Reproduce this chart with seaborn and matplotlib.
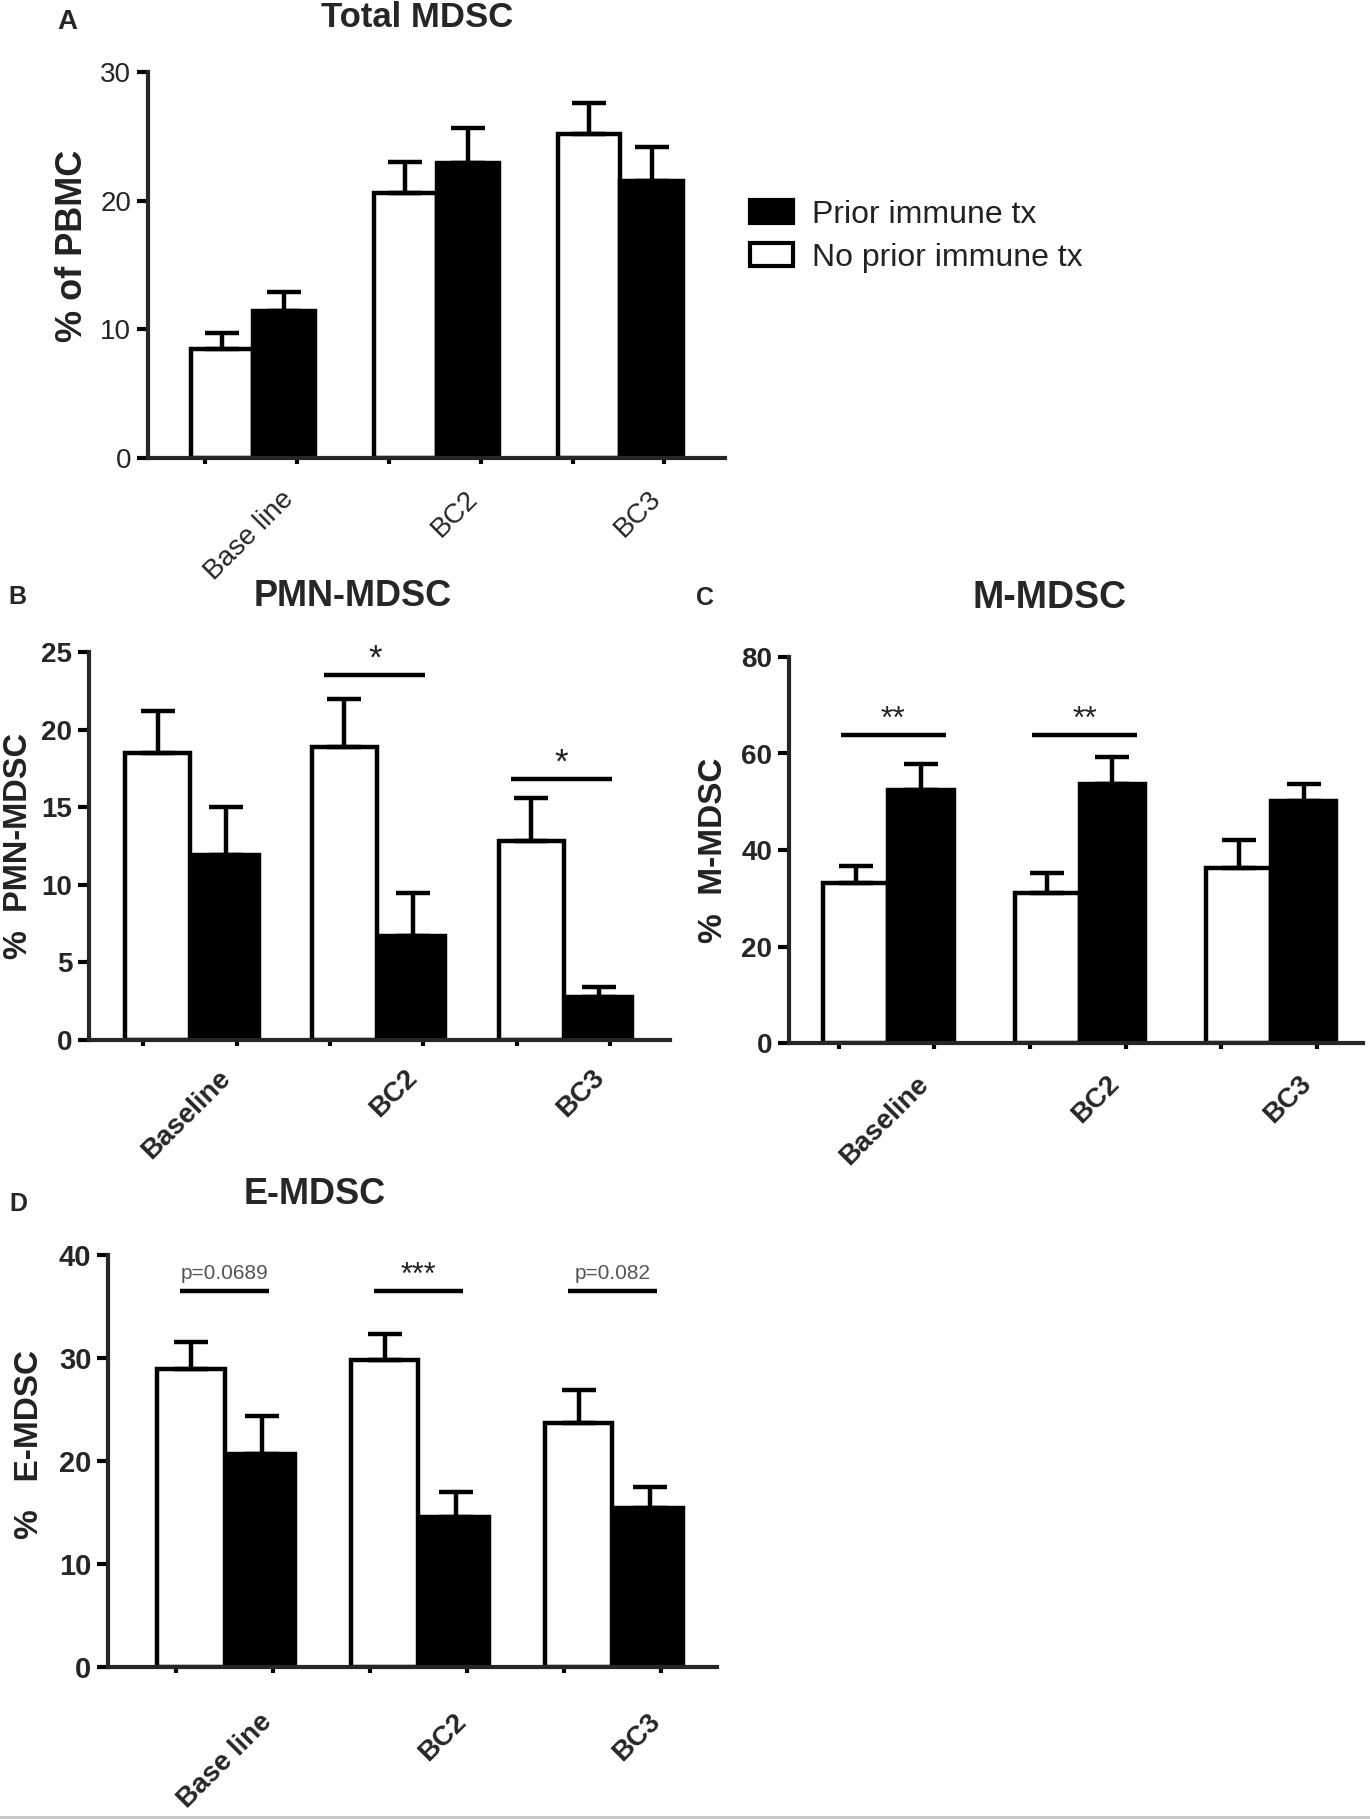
import numpy as np
import pandas as pd
import matplotlib
matplotlib.use('Agg')
import matplotlib.pyplot as plt
import seaborn as sns
from matplotlib.patches import Patch, Rectangle

# groups and treatment levels
groups = ['Baseline', 'BC2', 'BC3']
treatments = ['No prior immune tx', 'Prior immune tx']

# A - Total MDSC (% of PBMC), mean and SEM (upper bar only)
total_no = [8.5, 20.6, 25.2]
total_no_err = [1.2, 2.4, 2.4]
total_prior = [11.4, 22.9, 21.5]
total_prior_err = [1.5, 2.75, 2.7]

# B - PMN-MDSC
pmn_no = [18.5, 18.9, 12.8]
pmn_no_err = [2.7, 3.1, 2.8]
pmn_prior = [11.9, 6.7, 2.8]
pmn_prior_err = [3.1, 2.8, 0.6]

# C - M-MDSC
m_no = [33.2, 31.0, 36.3]
m_no_err = [3.5, 4.3, 5.7]
m_prior = [52.5, 53.7, 50.2]
m_prior_err = [5.3, 5.5, 3.5]

# D - E-MDSC
e_no = [28.9, 29.8, 23.7]
e_no_err = [2.7, 2.5, 3.2]
e_prior = [20.7, 14.6, 15.4]
e_prior_err = [3.7, 2.4, 2.1]

labels_a = ['Base line', 'BC2', 'BC3']
labels_b = ['Baseline', 'BC2', 'BC3']
labels_c = ['Baseline', 'BC2', 'BC3']
labels_d = ['Base line', 'BC2', 'BC3']

# significance annotations: (group index, y, text)
sig_b = [(1, 23.5, '*'), (2, 16.8, '*')]
sig_c = [(0, 63.8, '**'), (1, 63.8, '**')]
sig_d = [(0, 36.5, 'p=0.0689'), (1, 36.5, '***'), (2, 36.5, 'p=0.082')]

sns.set_style('ticks')
plt.rcParams['font.family'] = ['Liberation Sans', 'DejaVu Sans']

W, H = 1370, 1819
fig = plt.figure(figsize=(W / 100, H / 100), dpi=100)


def rect(left, top, right, bottom):
    return [left / W, 1 - bottom / H, (right - left) / W, (bottom - top) / H]


def ftext(x, y, s, **kw):
    fig.text(x / W, 1 - y / H, s, **kw)


def panel(ax, no, no_err, prior, prior_err, ymax, step, width, gap, xlim,
          ticklabels, tickweight, ticksize, xsize, xpad, xshift):
    df = pd.DataFrame({
        'group': groups * 2,
        'treatment': [treatments[0]] * 3 + [treatments[1]] * 3,
        'value': list(no) + list(prior),
    })
    sns.barplot(data=df, x='group', y='value', hue='treatment',
                hue_order=treatments, order=groups,
                palette={treatments[0]: 'white', treatments[1]: 'black'},
                edgecolor='black', linewidth=3.2, width=width, gap=gap,
                errorbar=None, legend=False, ax=ax)
    bars = sorted(ax.patches, key=lambda p: p.get_x())
    xs = [p.get_x() + p.get_width() / 2 for p in bars]
    means, errs = [], []
    for i in range(3):
        means += [no[i], prior[i]]
        errs += [no_err[i], prior_err[i]]
    ax.errorbar(xs, means, yerr=[np.zeros(6), errs], fmt='none',
                ecolor='black', elinewidth=3.2, capsize=12, capthick=3.2,
                zorder=3)
    ax.set_xlim(*xlim)
    ax.set_ylim(0, ymax)
    ax.set_xlabel('')
    ax.set_ylabel('')
    sns.despine(ax=ax)
    for s in ['left', 'bottom']:
        ax.spines[s].set_linewidth(3)
    ax.spines['left'].set_bounds(0, ymax)
    ax.set_yticks(np.arange(0, ymax + 0.1, step))
    ax.set_yticklabels([f'{int(v)}' for v in np.arange(0, ymax + 0.1, step)],
                       fontsize=ticksize, fontweight=tickweight)
    ax.tick_params(axis='y', length=8, width=3, pad=4, color='black')
    ax.set_xticks([i + xshift for i in range(3)])
    ax.set_xticklabels(ticklabels, fontsize=xsize, fontweight=tickweight)
    ax.set_xticks([i + d for i in range(3) for d in (-0.26, 0.24)], minor=True)
    ax.tick_params(axis='x', which='major', length=0, pad=xpad)
    ax.tick_params(axis='x', which='minor', length=4, width=3, color='black')
    for lab in ax.get_xticklabels():
        lab.set_rotation(45)
        lab.set_ha('right')
        lab.set_rotation_mode('anchor')
    ax.set_facecolor('none')


def sig(ax, items, x0, x1, size):
    for g, y, s in items:
        ax.plot([g + x0, g + x1], [y, y], color='black', lw=3.2,
                solid_capstyle='butt', clip_on=False)
        if s.startswith('p='):
            ax.annotate(s, ((2 * g + x0 + x1) / 2, y), xytext=(0, 6),
                        textcoords='offset points', ha='center', va='bottom',
                        fontsize=15, color='#555555')
        else:
            ax.annotate(s, ((2 * g + x0 + x1) / 2, y), xytext=(0, 0),
                        textcoords='offset points', ha='center', va='bottom',
                        fontsize=size, color='#222222')


# Panel A
ax_a = fig.add_axes(rect(148, 72, 725, 458))
panel(ax_a, total_no, total_no_err, total_prior, total_prior_err,
      30, 10, 0.68, 0, (-0.572, 2.57), labels_a, 'normal', 20, 20, 20, 0.15)
ftext(417, 27, 'Total MDSC', ha='center', va='baseline', fontsize=25, fontweight='bold')
ftext(67, 22, 'A', ha='center', va='center', fontsize=20, fontweight='bold')
ftext(72, 246, '% of PBMC', ha='center', va='center', rotation=90,
      fontsize=26, fontweight='bold', color='#222222')
handles = [Patch(facecolor='black', edgecolor='black', linewidth=3),
           Patch(facecolor='white', edgecolor='black', linewidth=3)]
fig.legend(handles, ['Prior immune tx', 'No prior immune tx'],
           loc='upper left', bbox_to_anchor=(750 / W, 1 - 200 / H),
           frameon=False, fontsize=23, handlelength=1.35, handleheight=0.72,
           handletextpad=0.6, labelspacing=0.4, borderpad=0, borderaxespad=0,
           labelcolor='#222222')

# Panel B
ax_b = fig.add_axes(rect(89, 652, 670, 1040))
panel(ax_b, pmn_no, pmn_no_err, pmn_prior, pmn_prior_err,
      25, 5, 0.73, 0.04, (-0.55, 2.56), labels_b, 'bold', 20, 20, 18, 0.14)
sig(ax_b, sig_b, -0.29, 0.25, 25)
ftext(353, 597, 'PMN-MDSC', ha='center', va='center', fontsize=26, fontweight='bold')
ftext(17, 597, 'B', ha='center', va='center', fontsize=18, fontweight='bold')
ftext(19, 846, '%  PMN-MDSC', ha='center', va='center', rotation=90,
      fontsize=23.5, fontweight='bold', color='#222222')

# Panel C
ax_c = fig.add_axes(rect(789, 657, 1363, 1043))
panel(ax_c, m_no, m_no_err, m_prior, m_prior_err,
      80, 20, 0.68, 0, (-0.52, 2.48), labels_c, 'bold', 20, 20, 20, 0.14)
sig(ax_c, sig_c, -0.25, 0.3, 23)
ftext(1050, 598, 'M-MDSC', ha='center', va='center', fontsize=27, fontweight='bold')
ftext(705, 598, 'C', ha='center', va='center', fontsize=18, fontweight='bold')
ftext(713, 850, '%  M-MDSC', ha='center', va='center', rotation=90,
      fontsize=24, fontweight='bold', color='#222222')

# Panel D
ax_d = fig.add_axes(rect(108, 1255, 717, 1667))
panel(ax_d, e_no, e_no_err, e_prior, e_prior_err,
      40, 10, 0.73, 0.05, (-0.61, 2.53), labels_d, 'bold', 21, 20, 30, 0.17)
sig(ax_d, sig_d, -0.24, 0.22, 22)
ftext(315, 1195, 'E-MDSC', ha='center', va='center', fontsize=26, fontweight='bold')
ftext(18, 1204, 'D', ha='center', va='center', fontsize=18, fontweight='bold')
ftext(30, 1444, '%   E-MDSC', ha='center', va='center', rotation=90,
      fontsize=24, fontweight='bold', color='#222222')

# thin grey band at the bottom edge
fig.patches.append(Rectangle((0, 0), 1, 3 / H, transform=fig.transFigure,
                             facecolor='#c8c8c8', edgecolor='none'))

fig.savefig('out.png', dpi=100, facecolor='white')
